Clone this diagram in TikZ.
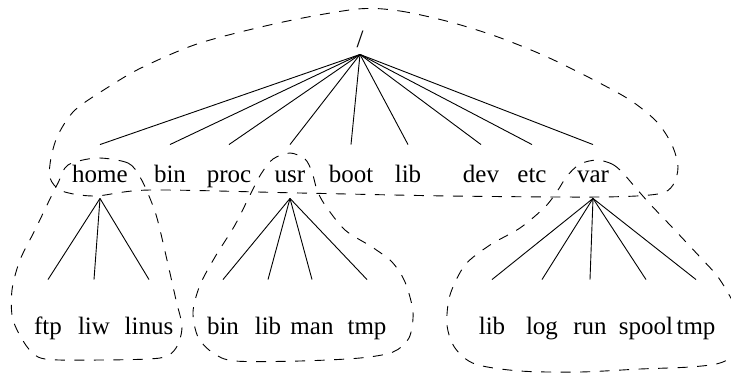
\documentclass[tikz,border=0pt]{standalone}
\usepackage{fontspec}
\setmainfont{Liberation Serif}
\usepackage{tikz}
\usetikzlibrary{positioning}

\begin{document}
\begin{tikzpicture}[x=1pt, y=-1pt, line width=0.9pt,
	every node/.style={anchor=base, inner sep=0pt, font=\fontsize{25}{30}\selectfont},
	rootdir/.style={text depth=7pt},
	topdir/.style={text height=37pt, text depth=16pt},
	leafdir/.style={text height=54pt, text depth=0pt},
	region/.style={dash pattern=on 10pt off 9.5pt}]
	\useasboundingbox (0,0) rectangle (731,373);
	\clip (0,0) rectangle (731,373);
	% root and first level
	\node[rootdir] (root) at (360, 47) {/};
	\node[topdir] (home) at (100, 182) {home};
	\node[topdir] (bin) at (170, 182) {bin};
	\node[topdir] (proc) at (229, 182) {proc};
	\node[topdir] (usr) at (290, 182) {usr};
	\node[topdir] (boot) at (351, 182) {boot};
	\node[topdir] (lib) at (408, 182) {lib};
	\node[topdir] (dev) at (481, 182) {dev};
	\node[topdir] (etc) at (532, 182) {etc};
	\node[topdir] (var) at (593, 182) {var};
	% second level
	\node[leafdir] (ftp) at (48, 334) {ftp};
	\node[leafdir] (liw) at (94, 334) {liw};
	\node[leafdir] (linus) at (149, 334) {linus};
	\node[leafdir] (ubin) at (223, 334) {bin};
	\node[leafdir] (ulib) at (268, 334) {lib};
	\node[leafdir] (man) at (312, 334) {man};
	\node[leafdir] (utmp) at (367, 334) {tmp};
	\node[leafdir] (vlib) at (492, 334) {lib};
	\node[leafdir] (log) at (542, 334) {log};
	\node[leafdir] (run) at (590, 334) {run};
	\node[leafdir] (spool) at (646, 334) {spool};
	\node[leafdir] (vtmp) at (696, 334) {tmp};
	\draw (root.south) to (home.north);
	\draw (root.south) to (bin.north);
	\draw (root.south) to (proc.north);
	\draw (root.south) to (usr.north);
	\draw (root.south) to (boot.north);
	\draw (root.south) to (lib.north);
	\draw (root.south) to (dev.north);
	\draw (root.south) to (etc.north);
	\draw (root.south) to (var.north);
	\draw (home.south) to (ftp.north);
	\draw (home.south) to (liw.north);
	\draw (home.south) to (linus.north);
	\draw (usr.south) to (ubin.north);
	\draw (usr.south) to (ulib.north);
	\draw (usr.south) to (man.north);
	\draw (usr.south) to (utmp.north);
	\draw (var.south) to (vlib.north);
	\draw (var.south) to (log.north);
	\draw (var.south) to (run.north);
	\draw (var.south) to (spool.north);
	\draw (var.south) to (vtmp.north);
	% dashed regions
	\draw[region] plot[smooth cycle] coordinates {(358,9) (400,11) (450,22) (498,37) (545,56) (590,78) (630,100) (657,122) (672,145) (678,167) (673,185) (658,194) (600,197) (450,196) (300,193) (150,190) (95,196) (62,191) (50,178) (51,158) (58,135) (75,110) (110,86) (143,67) (200,43) (283,22)};
	\draw[region] plot[smooth cycle] coordinates {(97,158) (128,163) (140,177) (149,196) (157,218) (167,260) (176,300) (182,327) (176,348) (160,358) (100,360) (45,359) (28,348) (13,320) (12,290) (20,260) (35,230) (48,203) (58,183) (68,165)};
	\draw[region] plot[smooth cycle] coordinates {(290,153) (305,159) (312,172) (317,190) (325,205) (345,230) (372,247) (392,262) (405,282) (413,312) (409,338) (393,352) (360,358) (300,361) (235,361) (213,353) (198,337) (193,312) (200,285) (215,257) (235,225) (250,195) (261,174) (273,159)};
	\draw[region] plot[smooth cycle] coordinates {(597,160) (612,164) (622,172) (635,187) (650,204) (670,225) (700,257) (718,277) (733,302) (745,330) (738,352) (720,363) (690,367) (640,369) (580,372) (520,371) (475,364) (455,348) (447,325) (450,295) (465,265) (490,245) (520,228) (545,207) (558,190) (567,176) (580,164)};
\end{tikzpicture}
\end{document}
